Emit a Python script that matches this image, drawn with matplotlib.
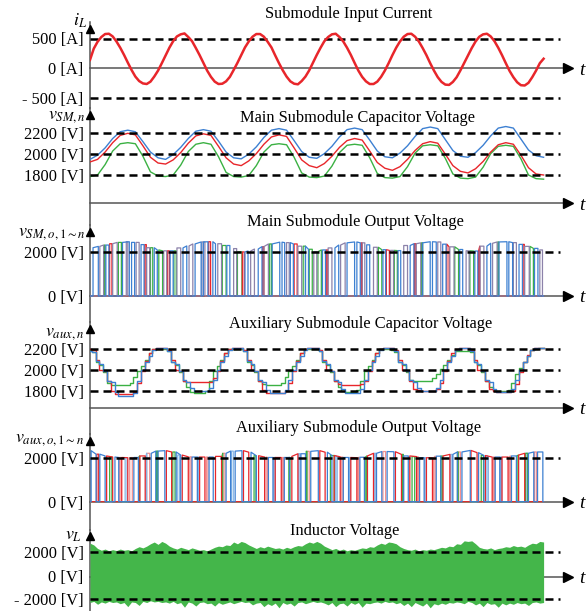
import numpy as np
import matplotlib.pyplot as plt

plt.rcParams['font.family'] = 'Liberation Serif'
plt.rcParams['mathtext.fontset'] = 'stix'

W, H = 588, 611
PX_MS = 3.78      # pixels per ms on the time axis
X0 = 90           # y axis position (px)
X_TIP = 573       # tip of the time-axis arrows (px)
AXIS_GREY = '#555555'

RED = '#e8262b'
BLUE = '#3d80d2'
GREEN = '#3bb143'
PURPLE = '#8c82aa'
PINK = '#f29090'
LIGHTBLUE = '#86b6e6'

# ---------------- data ----------------
t1 = np.arange(0, 121)        # 1 ms samples
t2 = np.arange(0, 121, 2)     # 2 ms samples

# submodule input current [A], 1 ms
i_L = [140, 330, 445, 525, 575, 580, 535, 450, 345, 225, 95, -30, -140, -215, -255, -265, -225, -140, -40, 85,
       215, 345, 455, 535, 570, 585, 525, 455, 340, 220, 90, -40, -145, -225, -265, -260, -220, -145, -30, 90,
       220, 350, 450, 530, 575, 575, 530, 445, 350, 215, 85, -35, -140, -220, -260, -270, -215, -140, -35, 95,
       225, 345, 455, 525, 570, 580, 525, 450, 345, 225, 90, -40, -145, -220, -265, -265, -225, -145, -40, 85,
       220, 345, 450, 530, 575, 580, 530, 450, 340, 220, 85, -40, -150, -230, -275, -280, -230, -150, -35, 90,
       215, 340, 450, 530, 570, 580, 535, 455, 345, 220, 85, -45, -150, -235, -285, -290, -245, -150, -40, 85,
       160]

# main submodule capacitor voltages [V], 2 ms
v_sm_blue = [1950, 1990, 2060, 2150, 2215, 2230, 2215, 2120, 2020, 1965,
             1950, 1995, 2065, 2150, 2220, 2235, 2220, 2125, 2020, 1965,
             1955, 2000, 2070, 2160, 2230, 2245, 2230, 2130, 2025, 1970,
             1960, 2005, 2075, 2165, 2235, 2250, 2235, 2135, 2030, 1975,
             1965, 2010, 2080, 2170, 2245, 2260, 2245, 2140, 2035, 1980,
             1970, 2015, 2085, 2175, 2250, 2265, 2250, 2145, 2040, 1985, 1970]
v_sm_red = [1925, 1950, 2020, 2110, 2180, 2200, 2185, 2080, 1970, 1915,
            1905, 1945, 2015, 2105, 2175, 2195, 2180, 2075, 1965, 1905,
            1890, 1935, 2005, 2095, 2165, 2185, 2170, 2060, 1945, 1890,
            1870, 1910, 1980, 2065, 2130, 2150, 2135, 2030, 1920, 1865,
            1845, 1880, 1950, 2035, 2100, 2120, 2105, 2000, 1890, 1835,
            1820, 1860, 1930, 2020, 2090, 2110, 2095, 1990, 1870, 1810, 1800]
v_sm_green = [1785, 1800, 1900, 2030, 2100, 2110, 2100, 1980, 1830, 1790,
              1785, 1800, 1895, 2025, 2095, 2110, 2095, 1975, 1825, 1785,
              1780, 1795, 1890, 2020, 2090, 2100, 2090, 1970, 1820, 1780,
              1775, 1790, 1885, 2015, 2085, 2095, 2085, 1965, 1815, 1775,
              1770, 1785, 1880, 2010, 2080, 2090, 2080, 1960, 1810, 1770,
              1765, 1780, 1875, 2005, 2075, 2085, 2075, 1955, 1800, 1765, 1760]

# main submodule output voltage: top level of the pulses [V], 2 ms
main_out_top = [2180, 2240, 2300, 2360, 2420, 2450, 2420, 2320, 2180, 2080,
                2040, 2040, 2170, 2260, 2350, 2440, 2450, 2360, 2280, 2140,
                1990, 2030, 2120, 2230, 2350, 2430, 2410, 2350, 2250, 2110,
                2000, 2080, 2170, 2300, 2400, 2440, 2400, 2310, 2200, 2090,
                2060, 2050, 2280, 2360, 2400, 2450, 2440, 2340, 2220, 2100,
                2040, 2030, 2250, 2380, 2440, 2450, 2410, 2330, 2240, 2150, 2080]
# switching intervals (on, off) [ms]
main_blue_pulses = [(0.8, 2.2), (4.2, 5.0), (8.6, 10.4), (11.0, 11.8), (13.5, 14.3), (17.0, 17.8),
                    (21.2, 22.0), (24.6, 25.6), (27.8, 29.4), (30.0, 31.2), (32.5, 33.2), (36.2, 37.0),
                    (41.0, 41.8), (44.5, 45.5), (48.2, 50.2), (50.8, 51.5), (53.0, 53.8), (57.0, 57.8),
                    (61.5, 62.3), (64.8, 65.8), (68.0, 70.0), (70.6, 71.5), (73.2, 74.0), (77.5, 78.2),
                    (81.5, 82.2), (84.7, 85.7), (88.0, 90.0), (90.6, 91.6), (93.3, 94.2), (97.8, 98.6),
                    (101.8, 102.6), (105.0, 106.0), (108.2, 110.3), (110.8, 111.8), (113.5, 114.4), (117.6, 118.5)]
main_purple_pulses = [(2.6, 3.6), (6.0, 7.2), (9.6, 10.0), (12.2, 13.0), (15.0, 15.8), (19.5, 20.3),
                      (23.0, 24.0), (26.2, 27.2), (29.6, 30.4), (33.8, 34.8), (38.0, 38.8), (42.5, 43.5),
                      (46.0, 47.2), (52.0, 52.7), (55.0, 56.0), (59.2, 60.0), (63.0, 64.0), (66.3, 67.5),
                      (72.0, 72.7), (75.0, 76.0), (79.5, 80.3), (83.0, 84.0), (86.3, 87.5), (92.0, 92.8),
                      (95.2, 96.3), (99.5, 100.3), (103.2, 104.2), (106.5, 107.7), (112.0, 112.8),
                      (115.0, 116.2), (119.0, 119.7)]
main_green_pulses = [(3.8, 4.0), (7.5, 8.3), (16.0, 16.6), (18.2, 19.2), (22.2, 22.8), (35.0, 36.0),
                     (39.0, 40.2), (47.5, 48.0), (56.4, 57.0), (58.0, 58.8), (60.3, 61.2), (76.3, 77.2),
                     (80.5, 81.3), (87.7, 88.0), (96.5, 97.5), (100.5, 101.5), (107.9, 108.1), (116.4, 117.3)]
main_red_pulses = [(5.2, 5.8), (14.5, 14.9), (20.5, 21.0), (31.4, 31.9), (40.3, 40.8), (45.7, 46.0),
                   (54.0, 54.8), (62.5, 62.9), (71.7, 72.0), (78.4, 79.2), (85.8, 86.2), (94.4, 95.0),
                   (102.8, 103.1), (114.5, 114.9)]

# auxiliary submodule capacitor voltages [V], 1 ms
v_aux_blue = [2185, 2170, 2090, 2060, 1990, 1900, 1890, 1790, 1755, 1750, 1750, 1750, 1780, 1900, 2000, 2080, 2140, 2195, 2210, 2210,
              2210, 2180, 2080, 2060, 1990, 1910, 1890, 1830, 1800, 1800, 1800, 1800, 1830, 1910, 2000, 2080, 2140, 2195, 2210, 2210,
              2210, 2180, 2085, 2060, 1990, 1905, 1890, 1810, 1780, 1780, 1780, 1780, 1810, 1905, 2000, 2080, 2140, 2195, 2210, 2210,
              2210, 2180, 2085, 2060, 1990, 1905, 1890, 1815, 1785, 1785, 1785, 1785, 1815, 1905, 2000, 2080, 2140, 2195, 2210, 2210,
              2210, 2180, 2080, 2060, 1990, 1910, 1890, 1830, 1800, 1800, 1800, 1800, 1830, 1910, 2000, 2080, 2140, 2195, 2210, 2210,
              2210, 2180, 2080, 2060, 1990, 1905, 1890, 1820, 1790, 1790, 1790, 1790, 1820, 1905, 2000, 2080, 2140, 2195, 2210, 2210,
              2210]
v_aux_red = [2200, 2190, 2100, 2000, 1995, 1900, 1800, 1775, 1770, 1770, 1770, 1770, 1790, 1880, 1990, 2090, 2160, 2200, 2215, 2215,
             2215, 2195, 2100, 2000, 1995, 1900, 1890, 1885, 1885, 1885, 1885, 1885, 1890, 1920, 1990, 2090, 2160, 2200, 2215, 2215,
             2215, 2195, 2100, 2000, 1995, 1900, 1810, 1785, 1780, 1780, 1780, 1780, 1800, 1880, 1990, 2090, 2160, 2200, 2215, 2215,
             2215, 2195, 2100, 2000, 1995, 1900, 1870, 1860, 1860, 1860, 1860, 1860, 1870, 1900, 1990, 2090, 2160, 2200, 2215, 2215,
             2215, 2195, 2100, 2000, 1995, 1900, 1820, 1805, 1800, 1800, 1800, 1800, 1815, 1880, 1990, 2090, 2160, 2200, 2215, 2215,
             2215, 2195, 2100, 2000, 1995, 1900, 1815, 1800, 1795, 1795, 1795, 1795, 1800, 1870, 1980, 2080, 2150, 2195, 2210, 2210,
             2210]
v_aux_green = [2190, 2175, 2080, 2050, 1980, 1880, 1860, 1855, 1855, 1855, 1855, 1880, 1930, 1990, 2040, 2100, 2160, 2200, 2205, 2200,
               2200, 2180, 2080, 2050, 1980, 1900, 1840, 1790, 1780, 1780, 1780, 1800, 1900, 1990, 2040, 2100, 2160, 2200, 2205, 2200,
               2200, 2180, 2080, 2050, 1980, 1900, 1870, 1860, 1860, 1860, 1860, 1880, 1930, 1990, 2040, 2100, 2160, 2200, 2205, 2200,
               2200, 2180, 2080, 2050, 1980, 1900, 1840, 1800, 1790, 1790, 1790, 1810, 1900, 1990, 2040, 2100, 2160, 2200, 2205, 2200,
               2190, 2175, 2080, 2050, 1980, 1910, 1900, 1900, 1900, 1900, 1900, 1920, 1960, 2010, 2050, 2100, 2150, 2180, 2185, 2185,
               2185, 2175, 2080, 2050, 1980, 1900, 1840, 1805, 1800, 1800, 1800, 1810, 1880, 1960, 2020, 2080, 2140, 2190, 2205, 2210,
               2210]

# auxiliary submodule output voltage: top level of the pulses [V], 2 ms
aux_out_top = [2320, 2160, 2080, 2030, 2010, 2000, 2010, 2080, 2200, 2300,
               2320, 2260, 2120, 2040, 2030, 2030, 2030, 2060, 2200, 2300,
               2320, 2250, 2090, 2030, 2010, 2010, 2010, 2060, 2180, 2290,
               2320, 2250, 2100, 2040, 2010, 2000, 2020, 2080, 2200, 2280,
               2270, 2150, 2080, 2050, 2000, 1990, 2070, 2080, 2150, 2260,
               2330, 2230, 2100, 2030, 2030, 2030, 2080, 2120, 2200, 2260, 2260]
aux_blue_pulses = [(0.3, 1.6), (2.6, 4.0), (6.6, 7.6), (11.6, 12.8), (16.2, 17.4), (18.0, 19.8), (22.8, 24.0),
                   (27.0, 28.4), (31.5, 32.6), (36.0, 37.2), (38.4, 40.2), (42.6, 44.0), (47.2, 48.4), (51.4, 52.8),
                   (55.8, 57.0), (58.4, 60.4), (62.8, 64.0), (67.0, 68.4), (71.4, 72.6), (75.8, 77.2), (78.6, 80.4),
                   (83.0, 84.2), (87.2, 88.4), (91.6, 92.8), (96.0, 97.2), (98.4, 100.6), (102.8, 104.2),
                   (107.2, 108.4), (111.5, 112.8), (116.0, 117.4), (118.4, 119.8)]
aux_red_pulses = [(1.8, 2.3), (4.4, 6.0), (8.4, 10.0), (13.2, 14.6), (20.2, 21.6), (24.4, 26.0), (29.0, 30.4),
                  (33.2, 34.8), (40.6, 42.0), (44.6, 46.2), (49.0, 50.6), (53.4, 55.0), (60.8, 62.2), (64.6, 66.2),
                  (69.0, 70.6), (73.4, 75.0), (80.8, 82.4), (84.6, 86.4), (89.0, 90.6), (93.4, 95.2),
                  (100.8, 102.4), (104.6, 106.4), (109.0, 110.6), (113.4, 115.0)]
aux_pink_pulses = [(7.8, 8.2), (10.5, 11.2), (15.0, 15.8), (26.4, 26.8), (30.8, 31.2), (35.2, 35.7), (46.6, 47.0),
                   (50.9, 51.2), (57.4, 58.0), (66.6, 67.0), (70.9, 71.2), (77.5, 78.2), (86.7, 87.0), (90.9, 91.3),
                   (97.5, 98.0), (106.7, 107.0), (110.9, 111.2), (117.6, 118.1)]
aux_green_pulses = [(5.2, 5.8), (12.9, 13.1), (17.6, 17.9), (21.9, 22.5), (34.9, 35.1), (43.4, 43.9), (52.6, 52.9),
                    (57.2, 57.4), (63.6, 64.6), (72.8, 73.2), (82.6, 82.9), (85.2, 85.9), (92.8, 93.2), (97.2, 97.4),
                    (103.5, 104.1), (112.9, 113.3), (115.2, 115.8)]
aux_lightblue_pulses = [(9.3, 9.8), (14.8, 15.0), (23.2, 23.7), (28.6, 28.9), (37.4, 37.9), (48.6, 49.0),
                        (55.2, 55.6), (65.0, 65.4), (68.6, 68.9), (75.2, 75.6), (88.6, 89.0), (95.4, 95.8),
                        (105.0, 105.4), (108.6, 108.9), (115.4, 115.8)]

# inductor voltage envelope [V], 1 ms
v_L_upper = [2750, 2600, 2300, 2150, 2250, 2100, 2200, 2120, 2250, 2150,
             2200, 2100, 2300, 2450, 2350, 2500, 2700, 2850, 2650, 2900,
             2750, 2500, 2350, 2250, 2400, 2300, 2200, 2350, 2250, 2150,
             2200, 2100, 2250, 2400, 2500, 2450, 2600, 2550, 2850, 2700,
             2900, 2800, 2600, 2450, 2300, 2450, 2350, 2500, 2400, 2300,
             2350, 2250, 2400, 2300, 2450, 2550, 2500, 2700, 2850, 2750,
             2900, 2750, 2500, 2350, 2200, 2300, 2150, 2250, 2100, 2200,
             2150, 2250, 2350, 2300, 2450, 2400, 2600, 2750, 2650, 2850,
             2800, 2700, 2450, 2300, 2200, 2150, 2250, 2100, 2200, 2150,
             2250, 2200, 2300, 2400, 2350, 2500, 2450, 2700, 2650, 2950,
             2900, 2950, 2700, 2400, 2300, 2250, 2350, 2200, 2300, 2350,
             2450, 2400, 2550, 2450, 2500, 2400, 2600, 2750, 2700, 2900,
             2850]
v_L_lower = [-2300, -2200, -2450, -2250, -2350, -2200, -2300, -2250, -2400, -2300,
             -2650, -2250, -2300, -2550, -2200, -2300, -2150, -2250, -2200, -2300,
             -2250, -2350, -2200, -2400, -2300, -2700, -2250, -2350, -2600, -2300,
             -2250, -2400, -2350, -2600, -2300, -2450, -2350, -2250, -2400, -2300,
             -2200, -2300, -2250, -2500, -2350, -2300, -2650, -2400, -2550, -2350,
             -2750, -2300, -2450, -2350, -2600, -2300, -2250, -2400, -2300, -2200,
             -2300, -2250, -2350, -2500, -2300, -2650, -2400, -2350, -2600, -2300,
             -2450, -2300, -2700, -2350, -2400, -2300, -2250, -2350, -2200, -2300,
             -2250, -2400, -2300, -2550, -2350, -2650, -2300, -2450, -2600, -2350,
             -2750, -2400, -2500, -2350, -2450, -2300, -2350, -2250, -2300, -2400,
             -2200, -2300, -2500, -2350, -2650, -2300, -2450, -2400, -2700, -2350,
             -2500, -2350, -2450, -2300, -2400, -2350, -2550, -2300, -2250, -2350,
             -2300]

# ---------------- figure ----------------
fig = plt.figure(figsize=(W / 100, H / 100), dpi=100)


def px_t(px):
    return (px - X0) / PX_MS


def make_panel(top, bottom, ref_a, ref_b, tip):
    (va, pa), (vb, pb) = ref_a, ref_b
    s = (pb - pa) / (va - vb)
    ax = fig.add_axes([X0 / W, 1 - bottom / H, (X_TIP - X0) / W, (bottom - top) / H])
    ax.set_xlim(0, px_t(X_TIP))
    ax.set_ylim(vb - (bottom - pb) / s, va + (pa - top) / s)
    ax.patch.set_visible(False)
    for side in ['top', 'right', 'bottom']:
        ax.spines[side].set_visible(False)
    ax.spines['left'].set_color(AXIS_GREY)
    ax.spines['left'].set_linewidth(1.1)
    ax.set_xticks([])
    ax.tick_params(axis='y', length=0, pad=4.5, labelsize=11.8)

    def y_of(px):
        return va + (pa - px) / s

    ax.plot(0, y_of(tip + 4.2), marker='^', ms=6, color='k', clip_on=False, zorder=6)
    return ax, y_of


def time_axis(ax, y_of, base_px):
    base = y_of(base_px)
    ax.plot([0, px_t(566)], [base, base], color=AXIS_GREY, lw=1.1, clip_on=False, zorder=2)
    ax.plot(px_t(568), base, marker='>', ms=7, color='k', clip_on=False, zorder=6)
    ax.text(px_t(582), y_of(base_px + 2), 't', style='italic', fontsize=14,
            ha='center', va='center', clip_on=False)


def dashed(ax, levels):
    for lvl in levels:
        ax.plot([0, px_t(560)], [lvl, lvl], color='k', lw=1.8, dashes=(3.2, 2.0), zorder=4)


def pulses(ax, intervals, top, color, lw=0.9):
    xs, ys = [0], [0]
    for on, off in intervals:
        v_on = top[int(round(on / 2))]
        v_off = top[int(round(off / 2))]
        xs += [on, on, off, off]
        ys += [0, v_on, v_off, 0]
    xs.append(120)
    ys.append(0)
    ax.plot(xs, ys, color=color, lw=lw, zorder=3)


def ftext(x, y, s, **kw):
    fig.text(x / W, 1 - y / H, s, **kw)


# panel 1: input current
ax1, y1 = make_panel(22, 108, (500, 38.5), (-500, 98), 25)
time_axis(ax1, y1, 68.3)
dashed(ax1, [500, -500])
ax1.plot(t1, i_L, color=RED, lw=1.8, zorder=5)
ax1.set_yticks([500, 0, -500], ['500 [A]', '0 [A]', '- 500 [A]'])

# panel 2: main capacitor voltages
ax2, y2 = make_panel(108, 225, (2200, 133.3), (1800, 175), 111)
time_axis(ax2, y2, 203.3)
ax2.plot(t2, v_sm_green, color=GREEN, lw=1.0, zorder=3)
ax2.plot(t2, v_sm_red, color=RED, lw=1.0, zorder=3)
ax2.plot(t2, v_sm_blue, color=BLUE, lw=1.0, zorder=3)
dashed(ax2, [2200, 2000, 1800])
ax2.set_yticks([2200, 2000, 1800], ['2200 [V]', '2000 [V]', '1800 [V]'])

# panel 3: main output voltages
ax3, y3 = make_panel(225, 322, (2000, 251.7), (0, 296), 228)
time_axis(ax3, y3, 296)
pulses(ax3, main_green_pulses, main_out_top, GREEN)
pulses(ax3, main_red_pulses, main_out_top, RED)
pulses(ax3, main_purple_pulses, main_out_top, PURPLE)
pulses(ax3, main_blue_pulses, main_out_top, BLUE)
dashed(ax3, [2000])
ax3.set_yticks([2000, 0], ['2000 [V]', '0 [V]'])

# panel 4: auxiliary capacitor voltages
ax4, y4 = make_panel(322, 434, (2200, 349.3), (1800, 391), 325)
time_axis(ax4, y4, 407.7)
ax4.plot(t1, v_aux_green, color=GREEN, lw=1.0, drawstyle='steps-mid', zorder=3)
ax4.plot(t1, v_aux_red, color=RED, lw=1.0, drawstyle='steps-mid', zorder=3)
ax4.plot(t1, v_aux_blue, color=BLUE, lw=1.0, drawstyle='steps-mid', zorder=3)
dashed(ax4, [2200, 2000, 1800])
ax4.set_yticks([2200, 2000, 1800], ['2200 [V]', '2000 [V]', '1800 [V]'])

# panel 5: auxiliary output voltages
ax5, y5 = make_panel(434, 530, (2000, 457.7), (0, 501.7), 437)
time_axis(ax5, y5, 501.7)
pulses(ax5, aux_pink_pulses, aux_out_top, PINK)
pulses(ax5, aux_lightblue_pulses, aux_out_top, LIGHTBLUE)
pulses(ax5, aux_green_pulses, aux_out_top, GREEN)
pulses(ax5, aux_red_pulses, aux_out_top, RED)
pulses(ax5, aux_blue_pulses, aux_out_top, BLUE)
dashed(ax5, [2000])
ax5.set_yticks([2000, 0], ['2000 [V]', '0 [V]'])

# panel 6: inductor voltage
ax6, y6 = make_panel(530, 611, (2000, 552), (-2000, 599), 532)
time_axis(ax6, y6, 576.5)
ax6.fill_between(t1, v_L_lower, v_L_upper, color='#44b64a', lw=0, zorder=3)
dashed(ax6, [2000, -2000])
ax6.set_yticks([2000, 0, -2000], ['2000 [V]', '0 [V]', '- 2000 [V]'])

# titles
title_kw = dict(ha='center', va='center', fontsize=11.8)
ftext(349, 14, 'Submodule Input Current', **title_kw)
ftext(357, 118, 'Main Submodule Capacitor Voltage', **title_kw)
ftext(355, 222, 'Main Submodule Output Voltage', **title_kw)
ftext(361, 324, 'Auxiliary Submodule Capacitor Voltage', **title_kw)
ftext(359, 428, 'Auxiliary Submodule Output Voltage', **title_kw)
ftext(345, 531, 'Inductor Voltage', **title_kw)

# axis names
name_kw = dict(ha='right', va='center', fontsize=13)
ftext(87, 21, r'$i_L$', **name_kw)
ftext(86, 117, r'$v_{SM,n}$', **name_kw)
ftext(86, 233, r'$v_{SM,o,1\sim n}$', **name_kw)
ftext(84, 333, r'$v_{aux,n}$', **name_kw)
ftext(84, 440, r'$v_{aux,o,1\sim n}$', **name_kw)
ftext(82, 535, r'$v_L$', **name_kw)

fig.savefig('out.png', dpi=100)
